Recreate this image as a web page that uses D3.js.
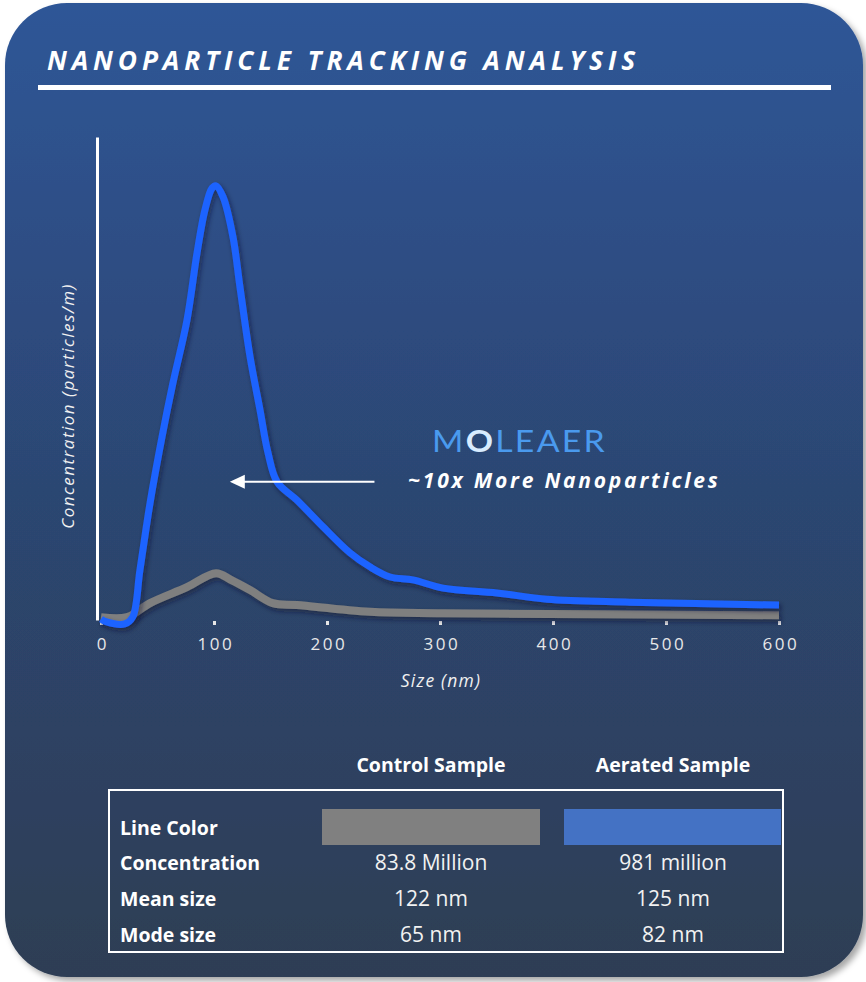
<!DOCTYPE html>
<html><head><meta charset="utf-8">
<script src="https://cdn.jsdelivr.net/npm/d3@7"></script>
<style>
html,body{margin:0;padding:0;background:#fff;}
svg{display:block;}
</style></head>
<body>
<svg id="chart" width="866" height="982"></svg>
<script>
// ---- data ----
const sizeTicks = [0,100,200,300,400,500,600];
const aeratedSizes  = [0, 5, 21, 28, 34.5, 43.4, 54, 63.7, 76.1, 85, 92, 98.2, 101.8, 108, 116.8, 123, 131.9, 140.7, 147.8, 155.8, 173.5, 196.5, 220.4, 238, 255.8, 276, 302.7, 350.4, 394.7, 468, 600];
const aeratedValues = [0.2, -0.4, -0.8, 0.6, 10.4, 24.2, 37.9, 49.1, 62.1, 76.0, 84.9, 89.4, 89.9, 87.6, 79.3, 68.9, 54.5, 43.5, 34.6, 28.6, 24.8, 19.3, 13.9, 11.0, 8.9, 8.3, 6.6, 5.6, 4.3, 3.7, 3.1];
const controlSizes  = [0, 23, 43.4, 76, 101.8, 115, 131.9, 152, 173.5, 238, 302, 600];
const controlValues = [0.6, 0.6, 3.5, 6.8, 9.7, 8.3, 6.2, 3.5, 3.1, 1.7, 1.4, 1.0];
const sampleNames = ["Control Sample","Aerated Sample"];
const sampleColors = ["#808080","#4472C4"];
const lineColors = ["#7f7f7f","#1F63FF"];
const rowLabels = ["Line Color","Concentration","Mean size","Mode size"];
const concentrationText = ["83.8 Million","981 million"];
const meanSizeText = ["122 nm","125 nm"];
const modeSizeText = ["65 nm","82 nm"];
const titleText = "NANOPARTICLE TRACKING ANALYSIS";
const annotationText = "~10x More Nanoparticles";

const svg = d3.select("#chart");
const defs = svg.append("defs");

const bg = defs.append("linearGradient").attr("id","bg").attr("x1",0).attr("y1",0).attr("x2",0).attr("y2",1);
bg.append("stop").attr("offset","0%").attr("stop-color","#2F5697");
bg.append("stop").attr("offset","50%").attr("stop-color","#2C4672");
bg.append("stop").attr("offset","100%").attr("stop-color","#2E3E54");

const sh = defs.append("filter").attr("id","panelShadow").attr("x","-5%").attr("y","-5%").attr("width","115%").attr("height","115%");
sh.append("feDropShadow").attr("dx",4).attr("dy",4).attr("stdDeviation",3).attr("flood-color","#000").attr("flood-opacity",0.35);

const lsh = defs.append("filter").attr("id","lineShadow").attr("x","-10%").attr("y","-10%").attr("width","120%").attr("height","130%");
lsh.append("feDropShadow").attr("dx",2).attr("dy",3).attr("stdDeviation",2.5).attr("flood-color","#0a1530").attr("flood-opacity",0.55);

const axg = defs.append("linearGradient").attr("id","axisGrad").attr("x1",0).attr("y1",0).attr("x2",1).attr("y2",0);
axg.append("stop").attr("offset","0%").attr("stop-color","#ffffff");
axg.append("stop").attr("offset","40%").attr("stop-color","#ffffff");
axg.append("stop").attr("offset","100%").attr("stop-color","#d8d8d8");

// panel
svg.append("rect").attr("x",5).attr("y",3).attr("width",858).attr("height",974)
  .attr("rx",62).attr("ry",62).attr("fill","url(#bg)").attr("filter","url(#panelShadow)");

// title
svg.append("text").attr("x",47).attr("y",70).text(titleText)
  .attr("font-family","Open Sans").attr("font-style","italic").attr("font-weight",700)
  .attr("font-size",27).attr("letter-spacing",5)
  .attr("textLength",593).attr("lengthAdjust","spacingAndGlyphs").attr("fill","#fff");
svg.append("rect").attr("x",38).attr("y",85).attr("width",793).attr("height",5).attr("fill","#fff");

// scales
const x = d3.scaleLinear().domain([0,600]).range([101,779]);
const y = d3.scaleLinear().domain([0,100]).range([620,137]);

// y axis
const yAxis = svg.append("g").attr("transform",`translate(${x(0)-4},0)`)
  .call(d3.axisLeft(y).tickValues([]).tickSizeOuter(0));
yAxis.select(".domain").attr("stroke","#fff").attr("stroke-width",3);

// x axis
const xAxis = svg.append("g").attr("transform",`translate(0,${y(0)+1})`)
  .call(d3.axisBottom(x).tickValues(sizeTicks).tickSize(4).tickSizeOuter(0).tickPadding(13));
xAxis.select(".domain").attr("stroke","url(#axisGrad)").attr("stroke-width",3.5);
xAxis.selectAll(".tick line").attr("stroke","#e6e6e6").attr("stroke-width",3);
xAxis.selectAll(".tick text").attr("fill","#e8e8e8").attr("font-family","Open Sans")
  .attr("font-size",17).attr("letter-spacing",2.6).attr("dx","0.08em");

svg.append("text").attr("x",441).attr("y",687).attr("text-anchor","middle").text("Size (nm)")
  .attr("font-family","Open Sans").attr("font-style","italic").attr("font-size",17.5)
  .attr("letter-spacing",1.2).attr("fill","#f0f0f0");

svg.append("text").attr("transform","translate(74,406) rotate(-90)").attr("text-anchor","middle")
  .text("Concentration (particles/m)")
  .attr("font-family","Open Sans").attr("font-style","italic").attr("font-size",17)
  .attr("letter-spacing",1.5).attr("fill","#f0f0f0");

// lines
const line = d3.line().x(d=>x(d[0])).y(d=>y(d[1])).curve(d3.curveCatmullRom.alpha(0.5));
const controlData = controlSizes.map((s,i)=>[s,controlValues[i]]);
const aeratedData = aeratedSizes.map((s,i)=>[s,aeratedValues[i]]);

svg.append("path").datum(controlData).attr("d",line).attr("fill","none")
  .attr("stroke",lineColors[0]).attr("stroke-width",8).attr("stroke-linejoin","round")
  .attr("filter","url(#lineShadow)");
svg.append("path").datum(aeratedData).attr("d",line).attr("fill","none")
  .attr("stroke",lineColors[1]).attr("stroke-width",7).attr("stroke-linejoin","round")
  .attr("filter","url(#lineShadow)");

// annotation arrow (data coords)
const arrowFrom = [242, 28.6], arrowTo = [114, 28.6];
const ax1 = x(arrowFrom[0]), ax2 = x(arrowTo[0]), ay = y(arrowFrom[1]);
svg.append("line").attr("x1",ax1).attr("x2",ax2+12).attr("y1",ay).attr("y2",ay)
  .attr("stroke","#fff").attr("stroke-width",2);
svg.append("path").attr("d",`M${ax2},${ay} L${ax2+15},${ay-7} L${ax2+15},${ay+7} Z`).attr("fill","#fff");

// logo
const logo = svg.append("text").attr("x",432).attr("y",452)
  .attr("font-family","Lato").attr("font-weight",400).attr("font-size",30)
  .attr("letter-spacing",2).attr("textLength",175).attr("lengthAdjust","spacingAndGlyphs")
  .attr("fill","#4A9AEE");
logo.append("tspan").text("M");
logo.append("tspan").text("O").attr("fill","#d8ecff").attr("font-weight",700);
logo.append("tspan").text("LEAER");

svg.append("text").attr("x",408).attr("y",488).text(annotationText)
  .attr("font-family","Open Sans").attr("font-style","italic").attr("font-weight",700)
  .attr("font-size",21).attr("letter-spacing",2.2)
  .attr("textLength",312).attr("lengthAdjust","spacing").attr("fill","#fff");

// table
const colX = [431, 673];
const rowY = [828, 863, 899, 935];
const tableFont = "Open Sans";
sampleNames.forEach((n,i)=>{
  svg.append("text").attr("x",colX[i]).attr("y",772).attr("text-anchor","middle").text(n)
    .attr("font-family",tableFont).attr("font-weight",700).attr("font-size",19.5).attr("fill","#fff");
});
svg.append("rect").attr("x",109).attr("y",790).attr("width",674).attr("height",162)
  .attr("fill","none").attr("stroke","#fff").attr("stroke-width",2);
rowLabels.forEach((l,i)=>{
  svg.append("text").attr("x",120).attr("y",rowY[i]+7).text(l)
    .attr("font-family",tableFont).attr("font-weight",700).attr("font-size",19.5).attr("fill","#fff");
});
const swX = [322, 564], swW = [218, 217];
sampleColors.forEach((c,i)=>{
  svg.append("rect").attr("x",swX[i]).attr("y",809).attr("width",swW[i]).attr("height",36).attr("fill",c);
});
[concentrationText, meanSizeText, modeSizeText].forEach((arr,r)=>{
  arr.forEach((t,i)=>{
    svg.append("text").attr("x",colX[i]).attr("y",rowY[r+1]+7).attr("text-anchor","middle").text(t)
      .attr("font-family",tableFont).attr("font-size",21).attr("fill","#f2f2f2");
  });
});
</script>
</body></html>
